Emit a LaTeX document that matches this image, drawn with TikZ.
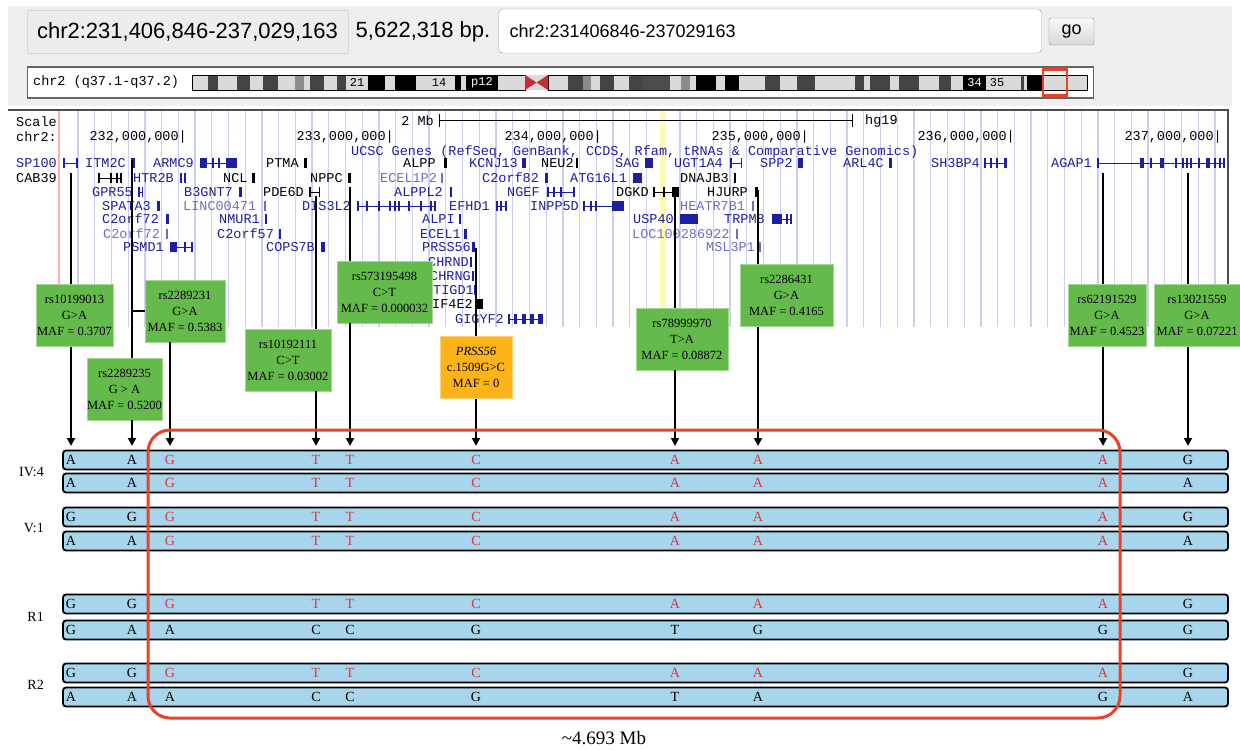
\documentclass[tikz,border=0pt]{standalone}
\usepackage{fontspec}
\setmainfont{Liberation Serif}
\newfontfamily\hdrfont{Liberation Sans}
\newfontfamily\ucscfont{Liberation Mono}
\usetikzlibrary{arrows.meta, positioning, calc}
\definecolor{geneblue}{RGB}{30,30,160}
\definecolor{genelight}{RGB}{110,110,190}
\definecolor{gridlav}{RGB}{204,208,238}
\definecolor{snpgreen}{RGB}{100,186,74}
\definecolor{mutorange}{RGB}{253,180,24}
\definecolor{barblue}{RGB}{166,213,236}
\definecolor{regred}{RGB}{232,66,40}
\definecolor{allelered}{RGB}{226,50,60}
\definecolor{panelgray}{RGB}{239,239,239}
\definecolor{centred}{RGB}{200,45,55}
\definecolor{bandlight}{RGB}{218,218,218}
\definecolor{bandmid}{RGB}{140,140,140}
\definecolor{banddark}{RGB}{68,68,68}
\tikzset{
  hdrtext/.style={font=\hdrfont\fontsize{22}{24}\selectfont, inner sep=0pt},
  hdrbox/.style={hdrtext, fill=gray!14, draw=gray!30, minimum width=321pt, minimum height=43pt},
  inbox/.style={fill=white, draw=gray!70, rounded corners=4pt, minimum width=543pt, minimum height=44pt},
  gobtn/.style={hdrtext, font=\hdrfont\fontsize{18}{20}\selectfont, top color=gray!5, bottom color=gray!30,
                draw=gray!90, rounded corners=2pt, minimum width=45pt, minimum height=27pt},
  chrbox/.style={fill=white, draw=gray!80!black, line width=1.2pt, minimum width=1066pt, minimum height=31pt},
  gene/.style={font=\ucscfont\fontsize{13.5}{14}\selectfont, inner sep=0pt, anchor=west},
  bandlbl/.style={font=\ucscfont\fontsize{12}{12}\selectfont, inner sep=0pt},
  snp/.style={fill=snpgreen, draw=snpgreen!60!white, minimum width=#1, minimum height=62pt,
              align=center, inner sep=0pt, font=\fontsize{12.5}{16}\selectfont},
  mut/.style={snp=#1, fill=mutorange, draw=mutorange!60!white},
  snpline/.style={line width=1.8pt},
  arr/.style={-{Triangle[length=8pt,width=8pt]}, line width=1.8pt},
  hbar/.style={draw=black, line width=1.8pt, fill=barblue, rounded corners=3pt,
               minimum width=1165pt, minimum height=19pt, inner sep=0pt},
  allele/.style={font=\fontsize{14}{14}\selectfont, inner sep=0pt},
  rowlbl/.style={font=\fontsize{14}{14}\selectfont, inner sep=0pt, anchor=east},
  region/.style={draw=regred, line width=3pt, rounded corners=22pt, minimum width=972pt, minimum height=288pt},
}

\begin{document}
\begin{tikzpicture}[x=1pt, y=-1pt]
  \useasboundingbox (0,0) rectangle (1240,750);

  \fill[panelgray] (8,6) rectangle (1232,106);
  \node[hdrbox] (coords) at (187.5,31.5) {chr2:231,406,846-237,029,163};
  \node[hdrtext] (span) at (423,32) {5,622,318 bp.};
  \node[inbox] (query) at (770,31) {};
  \node[hdrtext, font=\hdrfont\fontsize{18}{20}\selectfont, anchor=west] (qtext) at ([xshift=11pt]query.west) {chr2:231406846-237029163};
  \node[gobtn] (go) at (1071.5,31.5) {go};

  \node[chrbox] (ideo) at (560.5,82.5) {};
  \node[gene, text=black] (chrlbl) at (33,82.5) {chr2 (q37.1-q37.2)};
  \fill[bandlight] (192,75) rectangle (1087,90);
  \foreach \xa/\xb/\bc in {208/218/banddark, 237/250/banddark, 263/278/banddark, 295/304/bandmid,
      310/324/banddark, 337/346/banddark, 368/385/black, 395/416/black, 455/461/black, 466/498/black,
      568/583/banddark, 583/591/bandmid, 600/614/banddark, 629/643/banddark, 643/670/gray!60!black,
      681/690/bandmid, 696/716/black, 725/739/black, 765/780/banddark, 797/815/banddark,
      855/864/banddark, 870/890/banddark, 899/919/banddark, 939/951/banddark, 963/986/black,
      1021/1024/banddark, 1027/1044/black}
    \fill[\bc] (\xa,75) rectangle (\xb,90);
  \draw[line width=1pt] (192,75) rectangle (525,90);
  \draw[line width=1pt] (548,75) rectangle (1087,90);
  \fill[centred] (525,75) -- (536.5,82.5) -- (525,90) -- cycle;
  \fill[centred] (548,75) -- (536.5,82.5) -- (548,90) -- cycle;
  \node[bandlbl] (b21) at (357,82.5) {21};
  \node[bandlbl] (b14) at (439,82.5) {14};
  \node[bandlbl, text=white] (bp12) at (482,82.5) {p12};
  \node[bandlbl, text=white] (b34) at (974.5,82.5) {34};
  \node[bandlbl] (b35) at (997,82.5) {35};
  \node[draw=regred, line width=2.5pt, minimum width=24pt, minimum height=26pt] (cur) at (1055,82.5) {};

  \foreach \i in {0,...,68}
    \draw[gridlav, line width=1.3pt] (78+16.72*\i,111) -- ++(0,216);
  \draw[red!30, line width=1.2pt] (59,111) -- (59,327);
  \fill[yellow!30] (660,111) rectangle (666,327);
  \draw[gray!60!black, line width=1.5pt] (8,110) -- (1228,110) -- (1228,330);

  \node[gene, text=black] (scl) at (16,122) {Scale};
  \node[gene, text=black] (chrn) at (16,137) {chr2:};
  \node[gene, text=black, anchor=east] (mb) at (434,121) {2 Mb};
  \draw[line width=1pt] (439,114) -- (439,127) (439,120.5) -- (852,120.5) (852,114) -- (852,127);
  \node[gene, text=black] (hg) at (865,121) {hg19};
  \foreach \p/\x [count=\i] in {232/187, 233/394, 234/602, 235/809, 236/1015, 237/1222}
    \node[gene, text=black, anchor=east] (pos\i) at (\x,137) {\p,000,000|};
  \node[gene, text=geneblue] (trk) at (351,152) {UCSC Genes (RefSeq, GenBank, CCDS, Rfam, tRNAs \& Comparative Genomics)};

  \foreach \g/\x/\y/\gc [count=\i] in {SP100/16/163/geneblue, ITM2C/85/163/geneblue, ARMC9/153/163/geneblue,
      PTMA/266/163/black, ALPP/403/163/black, KCNJ13/469/163/geneblue, NEU2/541/163/black,
      SAG/615/163/geneblue, UGT1A4/674/163/geneblue, SPP2/760/163/geneblue, ARL4C/843/163/geneblue,
      SH3BP4/931/163/geneblue, AGAP1/1051/163/geneblue,
      CAB39/16/178/black, HTR2B/133/178/geneblue, NCL/223/178/black, NPPC/310/178/black,
      ECEL1P2/380/178/genelight, C2orf82/482/178/geneblue, ATG16L1/570/178/geneblue, DNAJB3/680/178/black,
      GPR55/92/192/geneblue, B3GNT7/184/192/geneblue, PDE6D/263/192/black, ALPPL2/394/192/geneblue,
      NGEF/507/192/geneblue, DGKD/616/192/black, HJURP/707/192/black,
      SPATA3/102/206/geneblue, LINC00471/183/206/genelight, DIS3L2/302/206/geneblue,
      EFHD1/449/206/geneblue, INPP5D/530/206/geneblue, HEATR7B1/680/206/genelight,
      C2orf72/102/219/geneblue, NMUR1/219/219/geneblue, ALPI/422/219/geneblue, USP40/633/219/geneblue,
      TRPM8/724/219/geneblue,
      C2orf72/103/234/genelight, C2orf57/217/234/geneblue, ECEL1/420/234/geneblue, LOC100286922/632/234/genelight,
      PSMD1/123/247/geneblue, COPS7B/266/247/geneblue, PRSS56/422/247/geneblue, MSL3P1/706/247/genelight,
      CHRND/428/262/geneblue, CHRNG/430/276/geneblue, TIGD1/433/290/geneblue, IF4E2/432/304/black,
      GIGYF2/455/319/geneblue}
    \node[gene, text=\gc] (gene\i) at (\x,\y) {\g};

  \foreach \xa/\xb/\y/\gc in {63/77/163/geneblue, 200/237/163/geneblue, 730/742/163/geneblue,
      984/1007/163/geneblue, 1097/1225/163/geneblue, 98/122/178/black, 138/143/192/geneblue,
      309/320/192/black, 547/575/192/geneblue, 653/679/192/black, 357/435/206/geneblue,
      496/506/206/geneblue, 583/624/206/geneblue, 772/792/219/geneblue, 170/193/247/geneblue,
      508/543/319/geneblue}
    \draw[\gc, line width=1pt] (\xa,\y) -- (\xb,\y);
  \foreach \xa/\xb/\y/\gc in {63/64.5/163/geneblue, 76/77.5/163/geneblue, 131/135/163/geneblue,
      200/207/163/geneblue, 212/214/163/geneblue, 218/220/163/geneblue, 226/237/163/geneblue,
      304/307/163/black, 444/447/163/black, 522/525.5/163/geneblue, 576/578/163/black,
      645/653/163/geneblue, 730/731.5/163/geneblue, 740.5/742/163/geneblue, 798/803/163/geneblue,
      889/892/163/geneblue, 984/985.5/163/geneblue, 990/991.5/163/geneblue, 996/997.5/163/geneblue,
      1004/1007/163/geneblue, 1097/1098.5/163/geneblue, 1140/1144/163/geneblue, 1150/1152/163/geneblue,
      1160/1164/163/geneblue, 1175/1176.5/163/geneblue, 1182/1183.5/163/geneblue, 1186/1187.5/163/geneblue,
      1190/1191.5/163/geneblue, 1198/1199.5/163/geneblue, 1206/1210/163/geneblue, 1214/1216/163/geneblue,
      1219/1220.5/163/geneblue, 1223/1224.5/163/geneblue,
      98/99.5/178/black, 110/112/178/black, 116/118/178/black, 120/122/178/black,
      180/181.5/178/geneblue, 184/185.5/178/geneblue, 252/255/178/black, 348/351/178/black,
      441/443/178/genelight, 545/547.5/178/geneblue, 633/642/178/geneblue, 734/736/178/black,
      138/139.5/192/geneblue, 141.5/143/192/geneblue, 239/242/192/geneblue, 309/310.5/192/black,
      318.5/320/192/black, 450/452/192/geneblue, 547/549/192/geneblue, 553/555/192/geneblue,
      560/562/192/geneblue, 573/575/192/geneblue, 653/654.5/192/black, 663/664.5/192/black,
      672/679/192/black, 755/758/192/black,
      157/160/206/geneblue, 264/265.5/206/genelight, 357/358.5/206/geneblue, 366/367.5/206/geneblue,
      378/380/206/geneblue, 389/391/206/geneblue, 394/396/206/geneblue, 398/399.5/206/geneblue,
      408/410/206/geneblue, 420/421.5/206/geneblue, 430/432/206/geneblue, 434/435.5/206/geneblue,
      496/497.5/206/geneblue, 500/501.5/206/geneblue, 505/506.5/206/geneblue, 583/584.5/206/geneblue,
      590/591.5/206/geneblue, 595/597/206/geneblue, 612/624/206/geneblue, 752/754/206/genelight,
      166/169/219/geneblue, 265/267/219/geneblue, 459/461/219/geneblue, 680/698/219/geneblue,
      772/782/219/geneblue, 786/787.5/219/geneblue, 790/792/219/geneblue,
      166/168/234/genelight, 279/281/234/geneblue, 464/467/234/geneblue, 736/738/234/genelight,
      170/177/247/geneblue, 184/185.5/247/geneblue, 191/193/247/geneblue, 321/325/247/geneblue,
      472/474.5/247/geneblue, 759/761/247/genelight,
      470/472/262/geneblue, 472/474/276/geneblue, 474/477/290/geneblue, 477/483/304/black,
      508/509.5/319/geneblue, 514/517/319/geneblue, 522/526/319/geneblue, 530/534/319/geneblue,
      538/543/319/geneblue}
    \fill[\gc] (\xa,\y-5) rectangle (\xb,\y+5);

  \node[snp=77pt]  (b1) at (74.5,315.5) {rs10199013\\G>A\\MAF = 0.3707};
  \node[snp=75pt]  (b2) at (124.5,389)  {rs2289235\\G > A\\MAF = 0.5200};
  \node[snp=80pt]  (b3) at (185,311)    {rs2289231\\G>A\\MAF = 0.5383};
  \node[snp=86pt]  (b4) at (288,360)    {rs10192111\\C>T\\MAF = 0.03002};
  \node[snp=95pt]  (b5) at (384.5,292)  {rs573195498\\C>T\\MAF = 0.000032};
  \node[mut=72pt]  (o1) at (476,367.5)  {\textit{PRSS56}\\c.1509G>C\\MAF = 0};
  \node[snp=92pt]  (b6) at (682,339)    {rs78999970\\T>A\\MAF = 0.08872};
  \node[snp=93pt]  (b7) at (786.5,295.5) {rs2286431\\G>A\\MAF = 0.4165};
  \node[snp=78pt]  (b8) at (1107,315.5) {rs62191529\\G>A\\MAF = 0.4523};
  \node[snp=86pt]  (b9) at (1197,315.5) {rs13021559\\G>A\\MAF = 0.07221};

  \foreach \x [count=\k] in {71,132,170,316,350,476,675,758,1103,1188}
    \coordinate (t\k) at (\x,446);
  \coordinate (s1) at (71,173);
  \coordinate (s2) at (132,160);
  \coordinate (s4) at (316,196);
  \coordinate (s5) at (350,187);
  \coordinate (s6) at (476,248);
  \coordinate (s7) at (675,193);
  \coordinate (s8) at (758,190);
  \coordinate (s9) at (1103,173);
  \coordinate (s10) at (1188,173);

  \foreach \k/\bx in {1/b1, 2/b2, 4/b4, 5/b5, 6/o1, 7/b6, 8/b7, 9/b8, 10/b9} {
    \draw[snpline] (s\k) -- (s\k |- \bx.north);
    \draw[arr] (s\k |- \bx.south) -- (t\k);
  }
  \draw[snpline] (s2 |- b3.west) -- (b3.west);
  \draw[arr] (t3 |- b3.south) -- (t3);

  \foreach \y [count=\rw] in {460,483,517,541,604,630,673,697}
    \node[hbar] (bar\rw) at (645.5,\y) {};
  \node[rowlbl] (lIV) at (44,472) {IV:4};
  \node[rowlbl] (lV) at (44,528) {V:1};
  \node[rowlbl] (lR1) at (44,617) {R1};
  \node[rowlbl] (lR2) at (44,685) {R2};

  \foreach \rw/\seq/\hcol in {1/{A,A,G,T,T,C,A,A,A,G}/allelered, 2/{A,A,G,T,T,C,A,A,A,A}/allelered,
      3/{G,G,G,T,T,C,A,A,A,G}/allelered, 4/{A,A,G,T,T,C,A,A,A,A}/allelered,
      5/{G,G,G,T,T,C,A,A,A,G}/allelered, 6/{G,A,A,C,C,G,T,G,G,G}/black,
      7/{G,G,G,T,T,C,A,A,A,G}/allelered, 8/{A,A,A,C,C,G,T,A,G,A}/black}
    \foreach \al [count=\k] in \seq {
      \ifnum\k>2 \ifnum\k<10 \def\lc{\hcol}\else\def\lc{black}\fi\else\def\lc{black}\fi
      \node[allele, text=\lc] (a\rw-\k) at (t\k |- bar\rw) {\al};
    }

  \node[region] (ld) at (634,574) {};
  \node[font=\fontsize{19}{19}\selectfont, inner sep=0pt] (ldlen) at (604,738) {\textasciitilde4.693 Mb};
\end{tikzpicture}
\end{document}
